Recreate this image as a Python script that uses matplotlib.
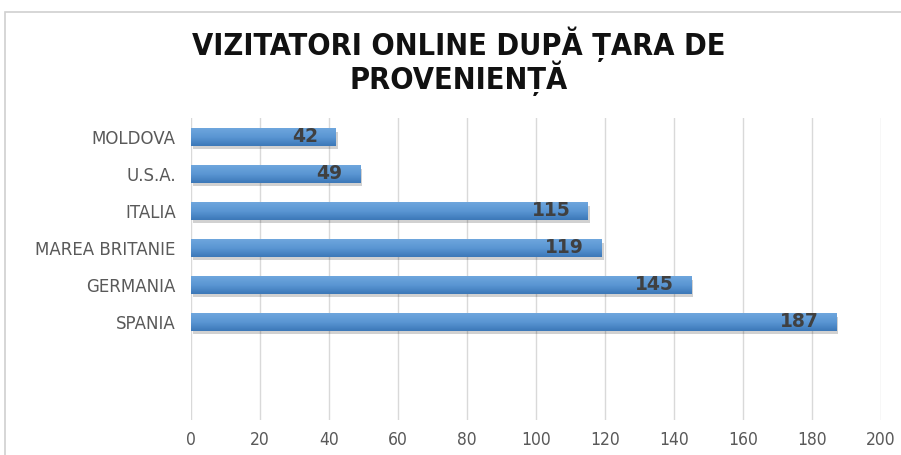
import numpy as np
import matplotlib.pyplot as plt
from matplotlib.patches import Rectangle
from matplotlib.colors import LinearSegmentedColormap

tari = ['MOLDOVA', 'U.S.A.', 'ITALIA', 'MAREA BRITANIE', 'GERMANIA', 'SPANIA']
vizitatori = [42, 49, 115, 119, 145, 187]
x_ticks = [0, 20, 40, 60, 80, 100, 120, 140, 160, 180, 200]

fig = plt.figure(figsize=(9.01, 4.55), dpi=100)
fig.patch.set_facecolor('white')
# chenarul graficului
fig.patches.append(Rectangle((5 / 901, -0.01), 1.0, 1 - 12 / 455 + 0.01,
                             transform=fig.transFigure, fill=False,
                             edgecolor='#d0d0d0', lw=1.2))

ax = fig.add_axes([191 / 901, 1 - 420 / 455, 690 / 901, 302 / 455])

grad = LinearSegmentedColormap.from_list('bar', ['#6ea6dd', '#5a96d3', '#3c78b8'])
h = 0.47
y = np.arange(len(tari))
for i, v in enumerate(vizitatori):
    # umbra
    ax.add_patch(Rectangle((0.6, i - h / 2 + 0.1), v, h, color='#000000',
                           alpha=0.18, lw=0, zorder=2))
    bar = ax.barh(i, v, height=h, color='none', zorder=3)[0]
    im = ax.imshow(np.linspace(0, 1, 50).reshape(-1, 1), cmap=grad, aspect='auto',
                   extent=(0, v, i + h / 2, i - h / 2), zorder=3)
    im.set_clip_path(bar)
    ax.text(v - 5, i, str(v), ha='right', va='center', fontsize=13.5,
            fontweight='bold', color='#404040', family='DejaVu Sans', zorder=4)

ax.set_xlim(0, 200)
ax.set_ylim(7.65, -0.51)
ax.set_xticks(x_ticks)
ax.set_xticklabels([str(t) for t in x_ticks], family='DejaVu Sans', fontstretch='condensed',
                   fontsize=12.5, color='#595959')
ax.set_yticks(y)
ax.set_yticklabels(tari, family='DejaVu Sans', fontsize=12, color='#595959')
ax.tick_params(length=0)
ax.tick_params(axis='x', pad=8)
ax.tick_params(axis='y', pad=11)
ax.grid(axis='x', color='#d9d9d9', lw=1)
ax.set_axisbelow(True)
for s in ax.spines.values():
    s.set_visible(False)

fig.text(459 / 901, 1 - 61 / 455, 'VIZITATORI ONLINE DUPĂ ȚARA DE\nPROVENIENȚĂ',
         ha='center', va='center', fontsize=22, fontweight='bold', color='#111111',
         family='DejaVu Sans', fontstretch='condensed', linespacing=0.95)

fig.savefig('out.png', dpi=100)
